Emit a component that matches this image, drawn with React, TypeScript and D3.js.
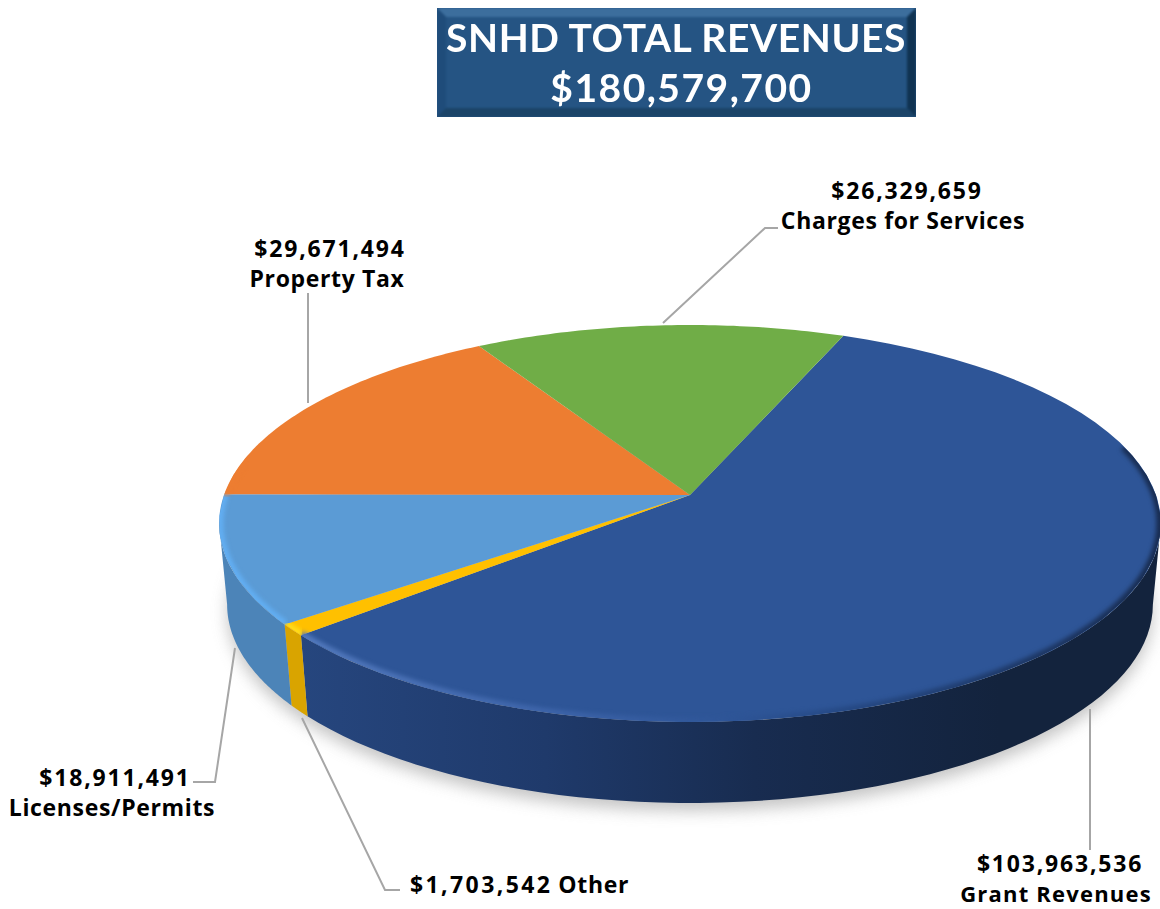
import React from "react";
import * as d3 from "d3";

const categories = ["Grant Revenues", "Other", "Licenses/Permits", "Property Tax", "Charges for Services"];
const values = [103963536, 1703542, 18911491, 29671494, 26329659];
const topColors = ["#2e5597", "#ffc000", "#5b9bd5", "#ed7d31", "#70ad47"];
const rimColors = ["url(#grantRim)", "#ffdc1a", "#62aef2", "#ed7d31", "#70ad47"];
const wallColors = ["url(#grantWall)", "#d9a400", "#4c84b8", "#c0652a", "#5c8e3a"];
const titleLines = ["SNHD TOTAL REVENUES", "$180,579,700"];

const W = 1160, H = 909;
const apex = { x: 690, y: 495 };
const halfW = 466, halfH = 194.4, persp = 0.1436;
const depth = 81, bottomShrink = 0.983;
const startDeg = 21.9;

const xScale = d3.scaleLinear().domain([-1, 1]).range([apex.x - halfW, apex.x + halfW]);
const yScale = d3.scaleLinear().domain([-1, 1]).range([apex.y + halfH, apex.y - halfH]);

const project = (a: number, bottom = false): [number, number] => {
  const u = Math.sin(a), v = Math.cos(a), w = 1 + persp * v;
  const x = xScale(u / w), y = yScale(v / w);
  return bottom ? [apex.x + (x - apex.x) * bottomShrink, y + depth] : [x, y];
};

const sample = (a0: number, a1: number, bottom = false) =>
  d3.range(0, 61).map((i) => project(a0 + ((a1 - a0) * i) / 60, bottom));

const line = d3.line();

const pieGen = d3.pie<number>().sort(null)
  .startAngle((startDeg * Math.PI) / 180)
  .endAngle((startDeg * Math.PI) / 180 + 2 * Math.PI);
const arcs = pieGen(values);

const wideAngle = Math.acos(-persp);
const wallA0 = wideAngle, wallA1 = 2 * Math.PI - wideAngle;
const fullTop = line(sample(0, 2 * Math.PI))! + "Z";
const fullBottom = line(sample(0, 2 * Math.PI, true))! + "Z";

const wallPath = (a0: number, a1: number) => {
  const s = Math.max(a0, wallA0), e = Math.min(a1, wallA1);
  if (e <= s) return null;
  const pts = [...sample(s, e), ...sample(s, e, true).reverse()];
  return line(pts)! + "Z";
};
const slicePath = (a0: number, a1: number) =>
  line([[apex.x, apex.y], ...sample(a0, a1)])! + "Z";
const rimPath = (a0: number, a1: number) => {
  const s = Math.max(a0, (75 * Math.PI) / 180), e = Math.min(a1, (282 * Math.PI) / 180);
  return e > s ? line(sample(s, e)) : null;
};

const leaders: [number, number][][] = [
  [[1090, 709], [1090, 850]],
  [[302, 718], [385, 890], [400, 890]],
  [[235, 648], [215, 782], [193, 782]],
  [[308, 403], [308, 293]],
  [[663, 323], [765, 228], [778, 228]],
];

const valueText = (v: number) => "$" + d3.format(",")(v);

const labels: { t: string; x: number; y: number; money: boolean; size?: number; ls?: number }[] = [
  { t: valueText(values[4]), x: 907, y: 199, money: true },
  { t: categories[4], x: 903, y: 229, money: false },
  { t: valueText(values[3]), x: 330, y: 257, money: true },
  { t: categories[3], x: 327, y: 287, money: false },
  { t: valueText(values[2]), x: 115, y: 786, money: true },
  { t: categories[2], x: 112, y: 816, money: false },
  { t: valueText(values[0]), x: 1060, y: 871.5, money: true },
  { t: categories[0], x: 1056, y: 902, money: false, size: 22, ls: 1.2 },
];

const box = { x0: 437, x1: 916, y0: 8, y1: 117, b: 9 };

export default function App() {
  const { x0, x1, y0, y1, b } = box;
  return (
    <svg width={W} height={H} viewBox={`0 0 ${W} ${H}`}
      style={{ position: "absolute", left: 0, top: 0, background: "#fff" }}>
      <defs>
        <linearGradient id="grantWall" gradientUnits="userSpaceOnUse" x1="300" x2="1000" y1="0" y2="0">
          <stop offset="0" stopColor="#26467e" />
          <stop offset="0.35" stopColor="#1f3a6b" />
          <stop offset="0.65" stopColor="#182c50" />
          <stop offset="1" stopColor="#13233d" />
        </linearGradient>
        <linearGradient id="grantRim" gradientUnits="userSpaceOnUse" x1="300" x2="1160" y1="0" y2="0">
          <stop offset="0" stopColor="#5279bd" />
          <stop offset="0.3" stopColor="#3c63a8" />
          <stop offset="0.5" stopColor="#2e5597" />
          <stop offset="0.62" stopColor="#264a86" />
          <stop offset="1" stopColor="#182c50" />
        </linearGradient>
        <filter id="shadow" x="-10%" y="-10%" width="120%" height="130%" colorInterpolationFilters="sRGB">
          <feGaussianBlur stdDeviation="8" />
        </filter>
        <filter id="rimBlur" x="-5%" y="-5%" width="110%" height="110%" colorInterpolationFilters="sRGB">
          <feGaussianBlur stdDeviation="2" />
        </filter>
        <filter id="soft" x="-5%" y="-10%" width="110%" height="120%" colorInterpolationFilters="sRGB">
          <feGaussianBlur stdDeviation="1.3" />
        </filter>
        <filter id="softText" x="-5%" y="-20%" width="110%" height="140%" colorInterpolationFilters="sRGB">
          <feGaussianBlur stdDeviation="0.45" />
        </filter>
        <clipPath id="topClip"><path d={fullTop} /></clipPath>
        <clipPath id="boxClip"><rect x={x0} y={y0} width={x1 - x0} height={y1 - y0} /></clipPath>
      </defs>

      {/* title box */}
      <g>
        <rect x={x0} y={y0} width={x1 - x0} height={y1 - y0} fill="#255483" />
        <g clipPath="url(#boxClip)">
          <g filter="url(#soft)">
            <polygon points={`${x0},${y0} ${x1},${y0} ${x1 - b},${y0 + b} ${x0 + b},${y0 + b}`} fill="#3c6e9d" />
            <polygon points={`${x0},${y0} ${x0 + b},${y0 + b} ${x0 + b},${y1 - b} ${x0},${y1}`} fill="#1f4c7a" />
            <polygon points={`${x1},${y0} ${x1},${y1} ${x1 - b},${y1 - b} ${x1 - b},${y0 + b}`} fill="#103352" />
            <polygon points={`${x0},${y1} ${x1},${y1} ${x1 - b},${y1 - b} ${x0 + b},${y1 - b}`} fill="#1b4468" />
          </g>
        </g>
        <g fontFamily="Lato, sans-serif" fontWeight={700} fontSize={39} fill="#fff" textAnchor="middle" filter="url(#softText)">
          <text x={676} y={52} letterSpacing={0.6}>{titleLines[0]}</text>
          <text x={681.5} y={102} letterSpacing={1.5}>{titleLines[1]}</text>
        </g>
      </g>

      {/* shadow */}
      <path d={fullBottom} fill="#b5b5b5" opacity={0.8} transform="translate(0,8)" filter="url(#shadow)" />

      {/* leaders */}
      <g fill="none" stroke="#a6a6a6" strokeWidth={2}>
        {leaders.map((l, i) => <path key={i} d={line(l)!} />)}
      </g>

      {/* walls */}
      {arcs.map((d, i) => {
        const p = wallPath(d.startAngle, d.endAngle);
        return p ? <path key={i} d={p} fill={wallColors[i]} /> : null;
      })}

      {/* top */}
      {arcs.map((d, i) => (
        <path key={i} d={slicePath(d.startAngle, d.endAngle)} fill={topColors[i]} />
      ))}

      {/* bevel rim */}
      <g clipPath="url(#topClip)">
        {arcs.map((d, i) => {
          const r = rimPath(d.startAngle, d.endAngle);
          return r ? (
            <path key={i} d={r} fill="none" stroke={rimColors[i]} strokeWidth={9} filter="url(#rimBlur)" />
          ) : null;
        })}
      </g>

      {/* labels */}
      <g fontFamily="'Open Sans', sans-serif" fontWeight={700} fontSize={23} fill="#000">
        {labels.map((l, i) => (
          <text key={i} x={l.x} y={l.y} textAnchor="middle" fontSize={l.size ?? 23}
            letterSpacing={l.ls ?? (l.money ? 1.8 : 0.65)}>{l.t}</text>
        ))}
        <text x={410} y={893}>
          <tspan letterSpacing={2.4}>{valueText(values[1])}</tspan>
          <tspan dx={6} letterSpacing={0.65}>{categories[1]}</tspan>
        </text>
      </g>
    </svg>
  );
}
